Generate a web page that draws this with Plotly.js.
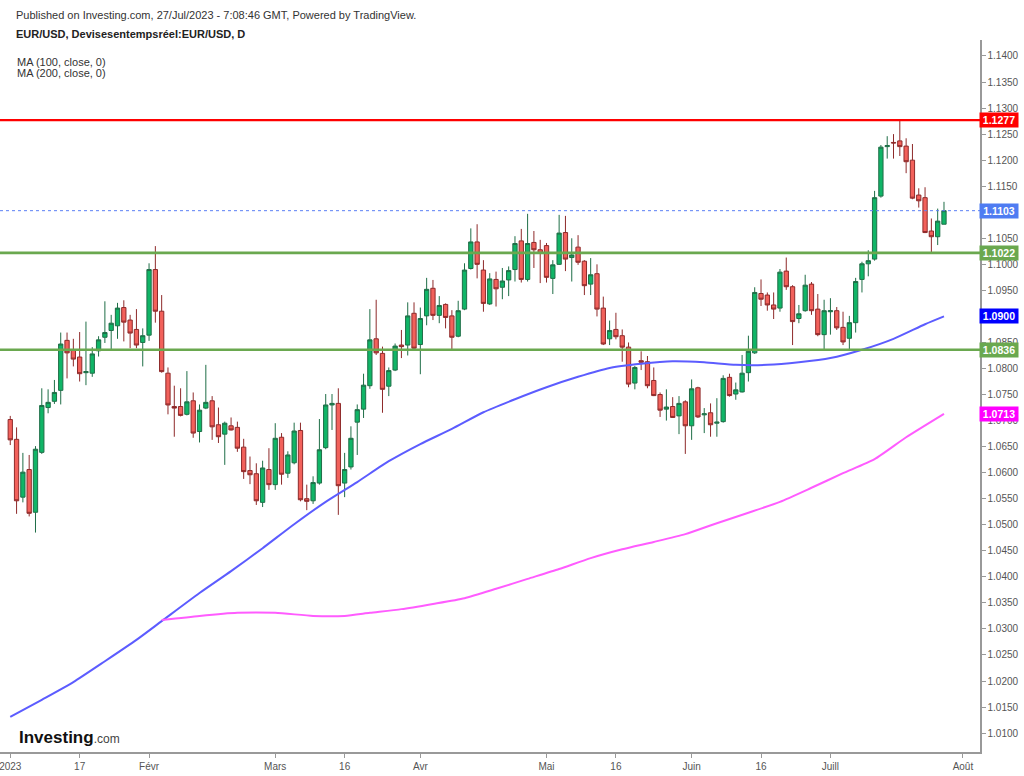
<!DOCTYPE html>
<html><head><meta charset="utf-8">
<script src="https://cdn.plot.ly/plotly-3.0.1.min.js"></script>
<style>html,body{margin:0;padding:0;background:#fff;}#chart{width:1024px;height:776px;}</style>
</head><body><div id="chart"></div>
<script>
const dates = [
'2023-01-02','2023-01-03','2023-01-04','2023-01-05','2023-01-06','2023-01-09','2023-01-10','2023-01-11','2023-01-12','2023-01-13',
'2023-01-16','2023-01-17','2023-01-18','2023-01-19','2023-01-20','2023-01-23','2023-01-24','2023-01-25','2023-01-26','2023-01-27',
'2023-01-30','2023-01-31','2023-02-01','2023-02-02','2023-02-03','2023-02-06','2023-02-07','2023-02-08','2023-02-09','2023-02-10',
'2023-02-13','2023-02-14','2023-02-15','2023-02-16','2023-02-17','2023-02-20','2023-02-21','2023-02-22','2023-02-23','2023-02-24',
'2023-02-27','2023-02-28','2023-03-01','2023-03-02','2023-03-03','2023-03-06','2023-03-07','2023-03-08','2023-03-09','2023-03-10',
'2023-03-13','2023-03-14','2023-03-15','2023-03-16','2023-03-17','2023-03-20','2023-03-21','2023-03-22','2023-03-23','2023-03-24',
'2023-03-27','2023-03-28','2023-03-29','2023-03-30','2023-03-31','2023-04-03','2023-04-04','2023-04-05','2023-04-06','2023-04-07',
'2023-04-10','2023-04-11','2023-04-12','2023-04-13','2023-04-14','2023-04-17','2023-04-18','2023-04-19','2023-04-20','2023-04-21',
'2023-04-24','2023-04-25','2023-04-26','2023-04-27','2023-04-28','2023-05-01','2023-05-02','2023-05-03','2023-05-04','2023-05-05',
'2023-05-08','2023-05-09','2023-05-10','2023-05-11','2023-05-12','2023-05-15','2023-05-16','2023-05-17','2023-05-18','2023-05-19',
'2023-05-22','2023-05-23','2023-05-24','2023-05-25','2023-05-26','2023-05-29','2023-05-30','2023-05-31','2023-06-01','2023-06-02',
'2023-06-05','2023-06-06','2023-06-07','2023-06-08','2023-06-09','2023-06-12','2023-06-13','2023-06-14','2023-06-15','2023-06-16',
'2023-06-19','2023-06-20','2023-06-21','2023-06-22','2023-06-23','2023-06-26','2023-06-27','2023-06-28','2023-06-29','2023-06-30',
'2023-07-03','2023-07-04','2023-07-05','2023-07-06','2023-07-07','2023-07-10','2023-07-11','2023-07-12','2023-07-13','2023-07-14',
'2023-07-17','2023-07-18','2023-07-19','2023-07-20','2023-07-21','2023-07-24','2023-07-25','2023-07-26','2023-07-27'];

const openP = [1.0702,1.0664,1.0553,1.0606,1.0524,1.0639,1.0725,1.0737,1.0758,1.0854,
1.0836,1.0822,1.0792,1.0791,1.0834,1.0860,1.0873,1.0882,1.0917,1.0893,
1.0875,1.0850,1.0864,1.0990,1.0910,1.0791,1.0727,1.0727,1.0712,1.0738,
1.0679,1.0724,1.0738,1.0692,1.0674,1.0690,1.0687,1.0649,1.0604,1.0598,
1.0543,1.0606,1.0577,1.0668,1.0599,1.0619,1.0681,1.0550,1.0546,1.0580,
1.0648,1.0730,1.0733,1.0580,1.0611,1.0697,1.0722,1.0767,1.0857,1.0829,
1.0766,1.0797,1.0845,1.0845,1.0906,1.0846,1.0901,1.0954,1.0902,1.0923,
1.0901,1.0862,1.0914,1.0992,1.1043,1.0989,1.0924,1.0971,1.0956,1.0970,
1.0990,1.1045,1.0971,1.1042,1.1028,1.1036,1.0973,1.1000,1.1061,1.1013,
1.1033,1.1006,1.0962,1.0982,1.0916,1.0857,1.0875,1.0863,1.0841,1.0772,
1.0815,1.0813,1.0777,1.0750,1.0722,1.0727,1.0709,1.0736,1.0690,1.0763,
1.0711,1.0715,1.0695,1.0698,1.0783,1.0751,1.0755,1.0792,1.0830,1.0944,
1.0941,1.0922,1.0916,1.0987,1.0957,1.0896,1.0911,1.0962,1.0914,1.0865,
1.0909,1.0911,1.0879,1.0858,1.0888,1.0971,1.1001,1.1010,1.1131,1.1226,
1.1234,1.1237,1.1227,1.1200,1.1133,1.1128,1.1064,1.1053,1.1077];

const highP = [1.0709,1.0687,1.0638,1.0634,1.0651,1.0762,1.0760,1.0778,1.0869,1.0869,
1.0857,1.0870,1.0890,1.0841,1.0862,1.0929,1.0903,1.0926,1.0931,1.0903,
1.0914,1.0877,1.1002,1.1035,1.0941,1.0802,1.0767,1.0762,1.0795,1.0754,
1.0731,1.0807,1.0747,1.0725,1.0698,1.0706,1.0698,1.0665,1.0631,1.0618,
1.0623,1.0647,1.0695,1.0676,1.0641,1.0696,1.0696,1.0577,1.0593,1.0703,
1.0751,1.0751,1.0762,1.0638,1.0689,1.0731,1.0790,1.0914,1.0932,1.0842,
1.0802,1.0848,1.0874,1.0927,1.0927,1.0917,1.0974,1.0970,1.0939,1.0925,
1.0912,1.0930,1.1002,1.1069,1.1077,1.1008,1.0983,1.0986,1.0993,1.0996,
1.1054,1.1068,1.1097,1.1064,1.1047,1.1041,1.1008,1.1095,1.1093,1.1050,
1.1056,1.1008,1.1012,1.1000,1.0938,1.0892,1.0907,1.0875,1.0850,1.0805,
1.0833,1.0824,1.0802,1.0754,1.0760,1.0745,1.0747,1.0739,1.0779,1.0765,
1.0724,1.0733,1.0743,1.0787,1.0790,1.0773,1.0826,1.0863,1.0956,1.0971,
1.0946,1.0946,1.0991,1.1013,1.0960,1.0922,1.0980,1.0966,1.0943,1.0932,
1.0935,1.0918,1.0909,1.0901,1.0974,1.1005,1.1027,1.1141,1.1229,1.1246,
1.1250,1.1276,1.1242,1.1231,1.1146,1.1148,1.1088,1.1107,1.1120];

const lowP = [1.0653,1.0521,1.0543,1.0516,1.0485,1.0636,1.0714,1.0732,1.0731,1.0781,
1.0804,1.0775,1.0768,1.0784,1.0823,1.0849,1.0836,1.0857,1.0852,1.0839,
1.0839,1.0804,1.0853,1.0888,1.0792,1.0712,1.0669,1.0708,1.0710,1.0667,
1.0658,1.0722,1.0663,1.0657,1.0615,1.0681,1.0640,1.0588,1.0578,1.0538,
1.0534,1.0567,1.0567,1.0577,1.0590,1.0616,1.0545,1.0528,1.0540,1.0577,
1.0645,1.0682,1.0519,1.0553,1.0606,1.0634,1.0705,1.0761,1.0826,1.0715,
1.0747,1.0795,1.0820,1.0825,1.0835,1.0789,1.0883,1.0893,1.0887,1.0877,
1.0834,1.0860,1.0912,1.0990,1.0973,1.0909,1.0922,1.0919,1.0933,1.0939,
1.0967,1.0965,1.0967,1.0993,1.0964,1.0965,1.0943,1.0999,1.0987,1.0967,
1.0999,1.0941,1.0941,1.0900,1.0845,1.0845,1.0856,1.0813,1.0764,1.0760,
1.0797,1.0762,1.0747,1.0707,1.0700,1.0705,1.0674,1.0636,1.0663,1.0705,
1.0676,1.0669,1.0669,1.0696,1.0746,1.0740,1.0754,1.0775,1.0828,1.0920,
1.0911,1.0895,1.0909,1.0951,1.0845,1.0887,1.0909,1.0903,1.0862,1.0837,
1.0865,1.0874,1.0845,1.0835,1.0869,1.0946,1.0977,1.1007,1.1128,1.1203,
1.1203,1.1208,1.1175,1.1125,1.1109,1.1060,1.1022,1.1037,1.1077];

const closeP = [1.0663,1.0546,1.0601,1.0522,1.0645,1.0729,1.0735,1.0754,1.0847,1.0830,
1.0818,1.0790,1.0794,1.0828,1.0855,1.0869,1.0887,1.0916,1.0889,1.0868,
1.0845,1.0863,1.0990,1.0910,1.0794,1.0730,1.0724,1.0710,1.0736,1.0676,
1.0720,1.0735,1.0688,1.0669,1.0695,1.0682,1.0647,1.0602,1.0596,1.0546,
1.0609,1.0577,1.0666,1.0597,1.0634,1.0680,1.0548,1.0545,1.0581,1.0644,
1.0730,1.0733,1.0575,1.0606,1.0666,1.0721,1.0768,1.0855,1.0830,1.0760,
1.0796,1.0843,1.0842,1.0901,1.0839,1.0896,1.0952,1.0902,1.0921,1.0898,
1.0860,1.0911,1.0989,1.1043,1.1000,1.0925,1.0972,1.0953,1.0968,1.0988,
1.1040,1.0971,1.1040,1.1028,1.1021,1.0975,1.0999,1.1060,1.1010,1.1018,
1.1004,1.0959,1.0980,1.0914,1.0847,1.0873,1.0861,1.0841,1.0770,1.0802,
1.0812,1.0767,1.0748,1.0720,1.0726,1.0706,1.0733,1.0690,1.0761,1.0707,
1.0713,1.0692,1.0697,1.0781,1.0748,1.0759,1.0791,1.0833,1.0946,1.0933,
1.0922,1.0914,1.0985,1.0957,1.0890,1.0905,1.0960,1.0911,1.0865,1.0911,
1.0911,1.0878,1.0851,1.0888,1.0967,1.1001,1.1007,1.1128,1.1225,1.1228,
1.1233,1.1226,1.1197,1.1127,1.1122,1.1061,1.1053,1.1083,1.1103];

// Moving averages read at sampled sessions (index into dates)
const ma100Idx = [0,5,10,15,20,24,30,35,40,45,50,55,60,65,70,75,80,85,90,95,100,105,110,115,120,125,130,135,140,145,148];
const ma100 = [1.0131,1.0164,1.0198,1.0238,1.0279,1.0315,1.0369,1.0411,1.0455,1.0501,1.0544,1.0582,1.0622,1.0655,1.0684,1.0716,1.0741,1.0764,1.0784,1.0801,1.0809,1.0814,1.0812,1.0807,1.0807,1.0812,1.0820,1.0836,1.0857,1.0885,1.0900];
const ma200Idx = [24,30,36,42,48,53,57,62,67,72,77,82,87,92,97,102,107,112,117,122,127,132,137,142,148];
const ma200 = [1.0317,1.0325,1.0331,1.0331,1.0325,1.0325,1.0331,1.0338,1.0348,1.0359,1.0377,1.0396,1.0415,1.0436,1.0453,1.0467,1.0482,1.0503,1.0523,1.0544,1.0571,1.0599,1.0626,1.0668,1.0713];

// Horizontal levels
const resistance = 1.1277;
const supports = [1.1022, 1.0836];
const lastPrice = 1.1103;

// Axis ticks
const xTickDates = ['2023-01-02','2023-01-17','2023-02-01','2023-03-01','2023-03-16','2023-04-03','2023-05-01','2023-05-16','2023-06-01','2023-06-16','2023-07-03','2023-08-01'];
const xTickLabels = ['2023','17','Févr','Mars','16','Avr','Mai','16','Juin','16','Juill','Août'];

const FONT = 'Liberation Sans, Arial, sans-serif';

const traces = [
  {
    type:'candlestick', x:dates, open:openP, high:highP, low:lowP, close:closeP,
    increasing:{line:{color:'#1f6e47',width:1}, fillcolor:'#10b567'},
    decreasing:{line:{color:'#8e2a2a',width:1}, fillcolor:'#f2615b'},
    whiskerwidth:0, hoverinfo:'skip', showlegend:false
  },
  {
    type:'scatter', mode:'lines', x:ma100Idx.map(i=>dates[i]), y:ma100,
    line:{color:'#5c5cff', width:2, shape:'spline', smoothing:0.6}, hoverinfo:'skip', showlegend:false
  },
  {
    type:'scatter', mode:'lines', x:ma200Idx.map(i=>dates[i]), y:ma200,
    line:{color:'#ff5cff', width:2, shape:'spline', smoothing:0.6}, hoverinfo:'skip', showlegend:false
  }
];

const shapes = [
  {type:'line', xref:'paper', x0:0, x1:1, yref:'y', y0:lastPrice, y1:lastPrice, line:{color:'#5b7ff5', width:1, dash:'dot'}},
  {type:'line', xref:'paper', x0:0, x1:1, yref:'y', y0:resistance, y1:resistance, line:{color:'#ff0000', width:2.2}},
].concat(supports.map(v=>({type:'line', xref:'paper', x0:0, x1:1, yref:'y', y0:v, y1:v, line:{color:'#6aa84f', width:2.6}})));

function priceTag(v, color){
  return {xref:'paper', x:1, xanchor:'left', xshift:-1, yref:'y', y:v, yanchor:'middle',
    text:'<b>'+v.toFixed(4)+'</b>', showarrow:false, bgcolor:color, borderpad:1, width:36, align:'center',
    font:{family:FONT, size:10.5, color:'#ffffff'}};
}
const PW = 980, PT = 40, PB = 752;
function px(x){return x/PW;}
function py(y){return (PB - y)/(PB-PT);}

const annotations = [
  priceTag(resistance,'#ff0000'),
  priceTag(lastPrice,'#4f7cf2'),
  priceTag(supports[0],'#6aa84f'),
  priceTag(ma100[ma100.length-1],'#0000ff'),
  priceTag(supports[1],'#6aa84f'),
  priceTag(ma200[ma200.length-1],'#ff00ff'),
  {xref:'paper', yref:'paper', x:px(14), y:py(15), xanchor:'left', yanchor:'middle', showarrow:false,
   text:'Published on Investing.com, 27/Jul/2023 - 7:08:46 GMT, Powered by TradingView.', font:{family:FONT,size:11,color:'#333'}},
  {xref:'paper', yref:'paper', x:px(14), y:py(34), xanchor:'left', yanchor:'middle', showarrow:false,
   text:'<b>EUR/USD, Devisesentempsréel:EUR/USD, D</b>', font:{family:FONT,size:11,color:'#222'}},
  {xref:'paper', yref:'paper', x:px(15), y:py(62), xanchor:'left', yanchor:'middle', showarrow:false,
   text:'MA (100, close, 0)', font:{family:FONT,size:11,color:'#333'}},
  {xref:'paper', yref:'paper', x:px(15), y:py(73), xanchor:'left', yanchor:'middle', showarrow:false,
   text:'MA (200, close, 0)', font:{family:FONT,size:11,color:'#333'}},
  {xref:'paper', yref:'paper', x:px(17), y:py(737), xanchor:'left', yanchor:'middle', showarrow:false,
   text:'<b>Investing</b><span style="font-size:12px;color:#444">.com</span>', font:{family:FONT,size:17,color:'#111'}}
];

const layout = {
  width:1024, height:776,
  margin:{l:0, r:1024-PW, t:PT, b:776-PB, pad:0},
  paper_bgcolor:'#ffffff', plot_bgcolor:'#ffffff',
  showlegend:false, hovermode:false,
  boxgap:0.32, boxgroupgap:0,
  font:{family:FONT, size:10, color:'#555'},
  xaxis:{
    type:'date', range:['2022-12-29 09:00','2023-08-03 17:00'],
    rangebreaks:[{bounds:['sat','mon']}],
    rangeslider:{visible:false},
    tickmode:'array', tickvals:xTickDates, ticktext:xTickLabels,
    ticklabeloverflow:'allow',
    ticks:'outside', ticklen:4, tickcolor:'#999', tickwidth:1,
    showline:true, linecolor:'#999', linewidth:1.5,
    showgrid:false, zeroline:false, fixedrange:true,
    tickfont:{family:FONT, size:10, color:'#555'}
  },
  yaxis:{
    side:'right', range:[1.00637,1.14307],
    tickmode:'linear', tick0:1.0, dtick:0.005, tickformat:'.4f',
    ticks:'outside', ticklen:4, tickcolor:'#999', tickwidth:1,
    showline:true, linecolor:'#999', linewidth:1.5,
    showgrid:false, zeroline:false, fixedrange:true,
    tickfont:{family:FONT, size:10, color:'#555'}
  },
  shapes:shapes,
  annotations:annotations
};

Plotly.newPlot('chart', traces, layout, {displayModeBar:false, staticPlot:true});
</script>
</body></html>
